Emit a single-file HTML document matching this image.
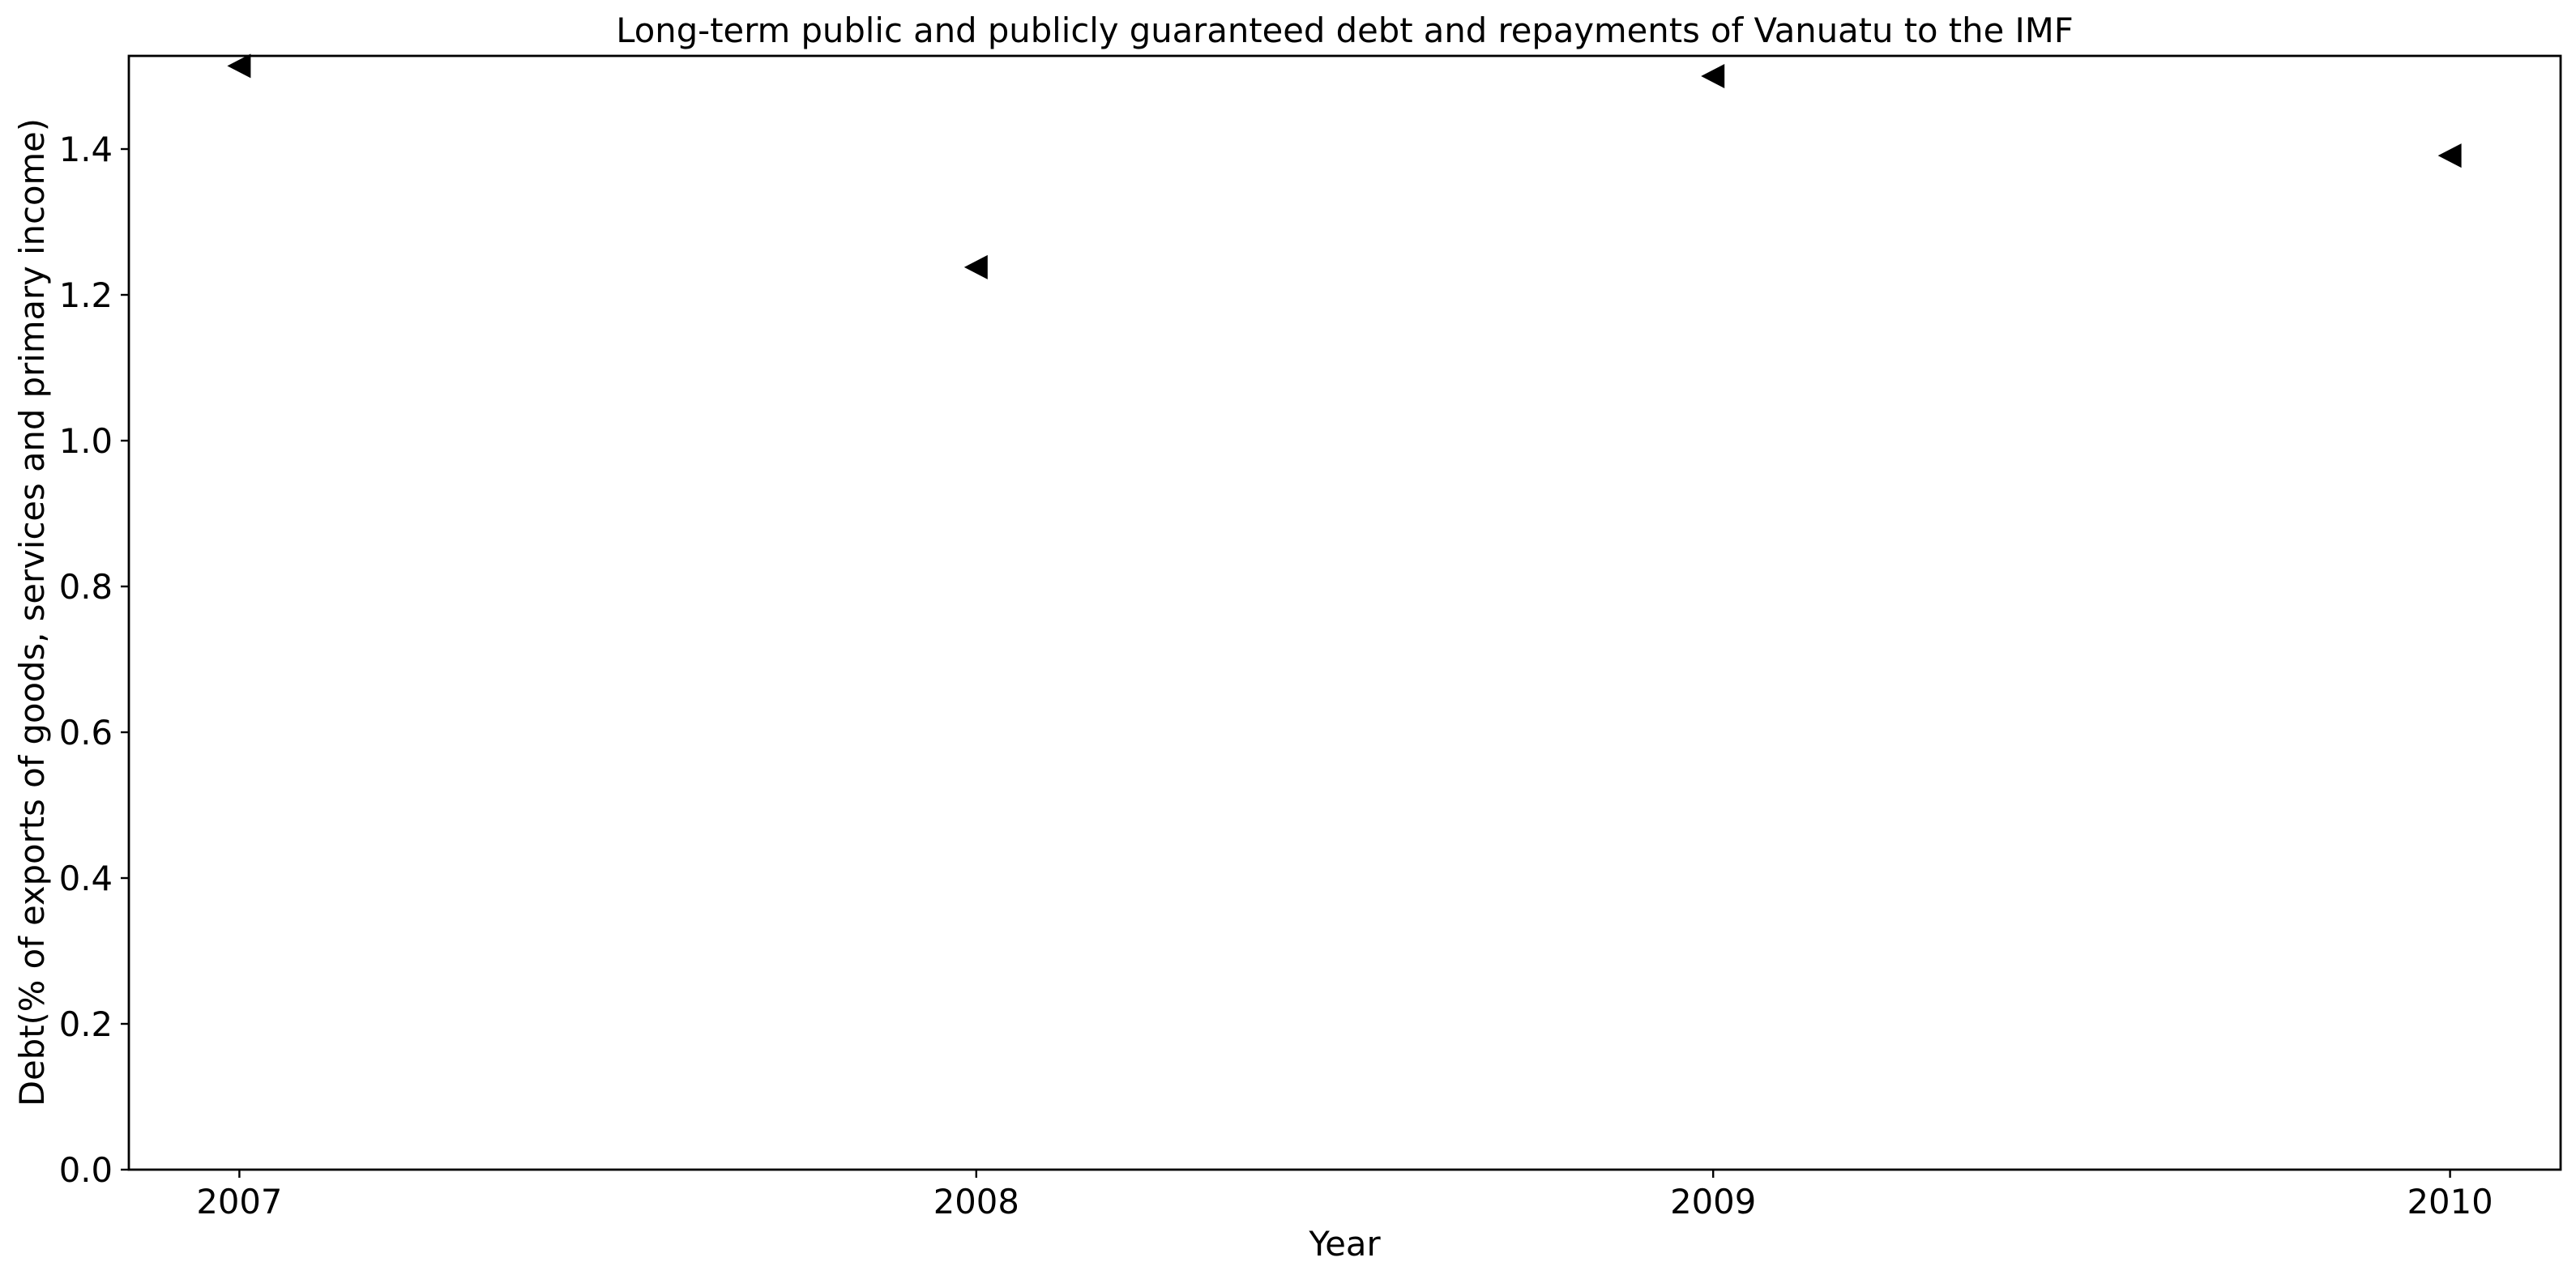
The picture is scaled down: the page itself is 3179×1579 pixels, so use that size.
<!DOCTYPE html>
<html><head><meta charset="utf-8"><style>
html,body{margin:0;padding:0;background:#fff;}
svg{display:block;font-family:"DejaVu Sans","Liberation Sans",sans-serif;}
</style></head><body>
<svg id="chart" width="3179" height="1579" viewBox="0 0 3179 1579" xmlns="http://www.w3.org/2000/svg">
<rect x="0" y="0" width="3179" height="1579" fill="#fff"/>
<text x="1659.5" y="52" font-size="41.7" text-anchor="middle">Long-term public and publicly guaranteed debt and repayments of Vanuatu to the IMF</text>
<g id="yticks"></g>
<g id="xticks"></g>
<g id="marks"></g>
<rect x="159" y="69" width="3001" height="1375" fill="none" stroke="#000" stroke-width="2.8"/>
<text x="1659.5" y="1550" font-size="41.7" text-anchor="middle">Year</text>
<text transform="translate(54,756) rotate(-90)" font-size="41.7" text-anchor="middle">Debt(% of exports of goods, services and primary income)</text>
</svg>
<script>
const years = [2007, 2008, 2009, 2010];
const debtValues = [1.514, 1.238, 1.50, 1.391];
const yTickValues = [0.0, 0.2, 0.4, 0.6, 0.8, 1.0, 1.2, 1.4];
const yTickLabels = ["0.0", "0.2", "0.4", "0.6", "0.8", "1.0", "1.2", "1.4"];
const xTickLabels = ["2007", "2008", "2009", "2010"];

const NS = "http://www.w3.org/2000/svg";
const L = 159, R = 3160, T = 69, B = 1444;
const xMin = 2006.85, xMax = 2010.15, yMin = 0, yMax = 1.5278;
function xScale(v){ return L + (v - xMin) / (xMax - xMin) * (R - L); }
function yScale(v){ return B - (v - yMin) / (yMax - yMin) * (B - T); }
function mk(tag, attrs, parent){ const e = document.createElementNS(NS, tag); for (const k in attrs) e.setAttribute(k, attrs[k]); parent.appendChild(e); return e; }

const yg = document.getElementById('yticks');
yTickValues.forEach((v, i) => {
  const y = yScale(v);
  const t = mk('line', {x1: L - 10, x2: L, y1: y, y2: y, stroke: '#000', 'stroke-width': 2.4}, yg);
  
  
  const lb = mk('text', {x: L - 20, y: y + 15, 'font-size': 41.7, 'text-anchor': 'end'}, yg);
  
  
  lb.textContent = yTickLabels[i];
});

const xg = document.getElementById('xticks');
years.forEach((v, i) => {
  const x = xScale(v);
  const t = mk('line', {x1: x, x2: x, y1: B, y2: B + 10, stroke: '#000', 'stroke-width': 2.4}, xg);
  
  
  const lb = mk('text', {x: x, y: B + 54, 'font-size': 41.7, 'text-anchor': 'middle'}, xg);
  
  
  lb.textContent = xTickLabels[i];
});

const mg = document.getElementById('marks');
years.forEach((v, i) => {
  const cx = xScale(v), cy = yScale(debtValues[i]);
  const p = mk('polygon', {points: `${cx-15},${cy} ${cx+14},${cy-15} ${cx+14},${cy+15}`, fill: '#000'}, mg);
  
  
});
</script>
</body></html>
